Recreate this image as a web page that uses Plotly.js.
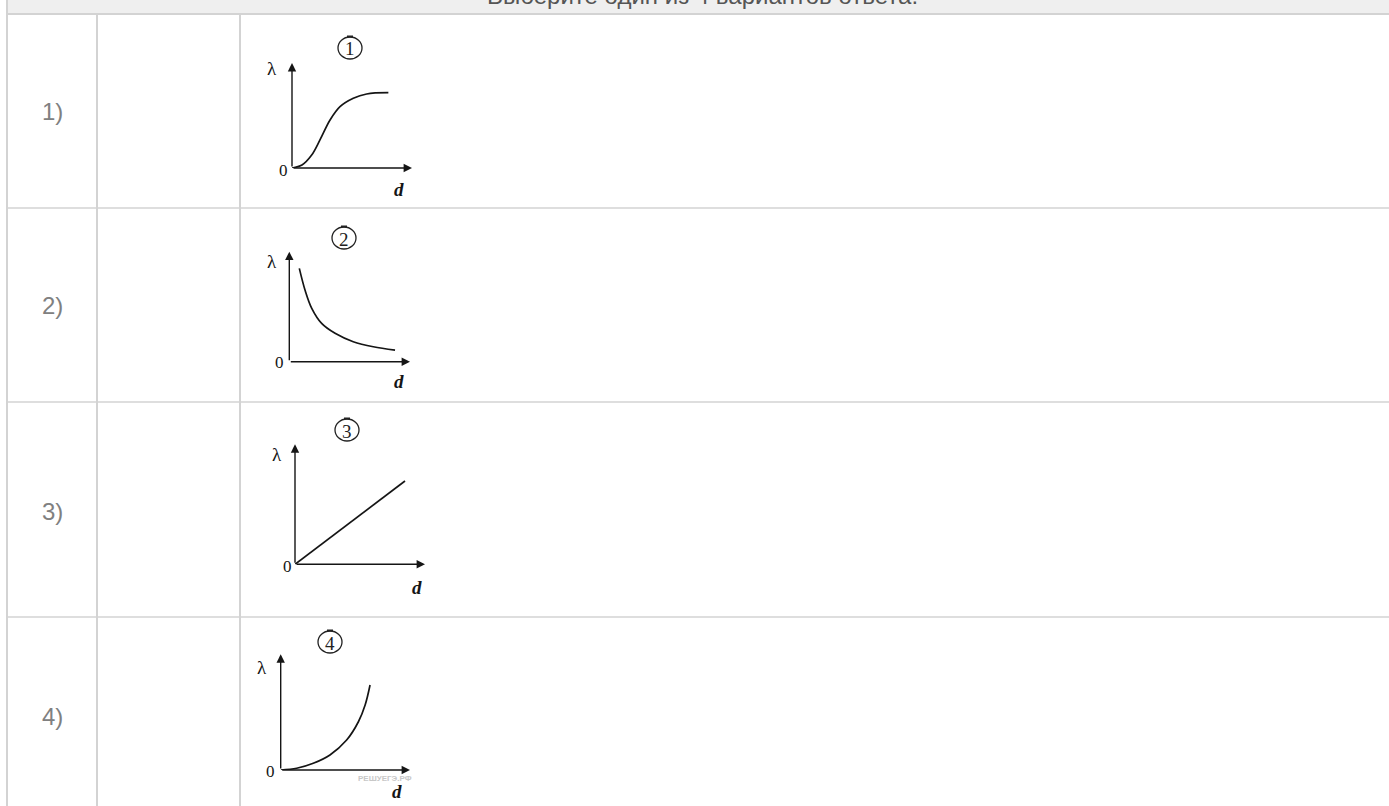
<!DOCTYPE html>
<html>
<head>
<meta charset="utf-8">
<script src="https://cdn.plot.ly/plotly-3.0.1.min.js"></script>
<style>
html,body{margin:0;padding:0;background:#fff;overflow:hidden;}
#chart{width:1389px;height:806px;}
</style>
</head>
<body>
<div id="chart"></div>
<script>
// ---- data ----
var headerText = 'Выберите один из 4 вариантов ответа:';
var rowLabels = ['1)', '2)', '3)', '4)'];
var chartNumbers = ['1', '2', '3', '4'];
var yAxisLabel = 'λ';
var xAxisLabel = 'd';
var originLabel = '0';
var watermark = 'РЕШУЕГЭ.РФ';

var curve1X = [0, 0.83, 1.64, 2.33, 3.17, 4.0, 5.11, 6.22, 8.03];
var curve1Y = [0, 0.29, 1.24, 2.67, 4.57, 5.84, 6.64, 7.05, 7.17];
var curve2X = [0.83, 1.30, 1.86, 2.68, 3.79, 5.30, 6.96, 8.76];
var curve2Y = [8.48, 6.52, 4.85, 3.48, 2.58, 1.82, 1.36, 1.06];
var curve3X = [0, 8.46];
var curve3Y = [0, 6.94];
var curve4X = [0, 1.24, 2.52, 3.81, 5.10, 6.01, 6.53, 6.91];
var curve4Y = [0, 0.15, 0.58, 1.30, 2.59, 4.17, 5.62, 7.35];

var curvesX = [curve1X, curve2X, curve3X, curve4X];
var curvesY = [curve1Y, curve2Y, curve3Y, curve4Y];

// ---- layout geometry (pixels) ----
var W = 1389, H = 806;
function fx(p){ return p / W; }
function fy(p){ return 1 - p / H; }

var geom = [
  {ox:292,   oy:168,   xt:412, yt:63,    lam:[272,69],  zero:[283,170], d:[399,189], circ:[350,48]},
  {ox:289.3, oy:361.7, xt:410, yt:251.7, lam:[272,261], zero:[279,362], d:[399,382], circ:[344,238]},
  {ox:295,   oy:564.3, xt:425, yt:444.3, lam:[277,454], zero:[287,566], d:[417,587], circ:[347,430]},
  {ox:280.7, oy:770,   xt:410, yt:654.3, lam:[262,667], zero:[270,771], d:[397,791], circ:[330,642]}
];
var rowLabelY = [112, 305, 511, 716];

var grid = '#d3d3d3';
var ink = '#151515';
var serif = 'Liberation Serif, DejaVu Serif, serif';
var sans = 'Liberation Sans, Arial, sans-serif';

var data = [];
var layout = {
  width: W, height: H,
  margin: {l:0, r:0, t:0, b:0, pad:0},
  paper_bgcolor: '#ffffff',
  plot_bgcolor: 'rgba(0,0,0,0)',
  showlegend: false,
  shapes: [],
  annotations: []
};

// table
layout.shapes.push({type:'rect', xref:'paper', yref:'paper', x0:fx(7), x1:1, y0:fy(0), y1:fy(14), fillcolor:'#efefef', line:{width:0}, layer:'below'});
layout.shapes.push({type:'line', xref:'paper', yref:'paper', x0:fx(7), x1:1, y0:fy(14), y1:fy(14), line:{color:grid, width:2}});
layout.shapes.push({type:'line', xref:'paper', yref:'paper', x0:fx(7), x1:fx(7), y0:fy(0), y1:fy(H), line:{color:grid, width:2}});
[97, 240].forEach(function(x){
  layout.shapes.push({type:'line', xref:'paper', yref:'paper', x0:fx(x), x1:fx(x), y0:fy(15), y1:fy(H), line:{color:grid, width:2}});
});
[208, 402, 617].forEach(function(y){
  layout.shapes.push({type:'line', xref:'paper', yref:'paper', x0:fx(7), x1:1, y0:fy(y), y1:fy(y), line:{color:grid, width:1.5}});
});

layout.annotations.push({text:headerText, xref:'paper', yref:'paper', x:fx(702), y:fy(-4), xanchor:'center', yanchor:'middle',
  showarrow:false, font:{family:sans, size:24, color:'#555'}});

rowLabels.forEach(function(t, i){
  layout.annotations.push({text:t, xref:'paper', yref:'paper', x:fx(52), y:fy(rowLabelY[i]), xanchor:'center', yanchor:'middle',
    showarrow:false, font:{family:sans, size:24, color:'#808080'}});
});

// mini charts
geom.forEach(function(g, i){
  var n = i + 1;
  var xa = 'xaxis' + (n === 1 ? '' : n), ya = 'yaxis' + (n === 1 ? '' : n);
  var xr = 'x' + (n === 1 ? '' : n), yr = 'y' + (n === 1 ? '' : n);
  layout[xa] = {domain:[fx(g.ox), fx(g.xt)], range:[0,10], visible:false, fixedrange:true, anchor:yr};
  layout[ya] = {domain:[fy(g.oy), fy(g.yt)], range:[0,10], visible:false, fixedrange:true, anchor:xr};

  data.push({type:'scatter', mode:'lines', x:curvesX[i], y:curvesY[i], xaxis:xr, yaxis:yr,
    line:{color:ink, width:1.7, shape:'spline', smoothing:1}, hoverinfo:'skip'});

  // axes with arrows
  layout.annotations.push({text:'', x:10, y:0, ax:0, ay:0, xref:xr, yref:yr, axref:xr, ayref:yr,
    showarrow:true, arrowhead:2, arrowsize:1.2, arrowwidth:1.4, arrowcolor:ink, standoff:0, startstandoff:0});
  layout.annotations.push({text:'', x:0, y:10, ax:0, ay:0, xref:xr, yref:yr, axref:xr, ayref:yr,
    showarrow:true, arrowhead:2, arrowsize:1.2, arrowwidth:1.4, arrowcolor:ink, standoff:0, startstandoff:0});

  layout.annotations.push({text:yAxisLabel, xref:'paper', yref:'paper', x:fx(g.lam[0]), y:fy(g.lam[1]), xanchor:'center', yanchor:'middle',
    showarrow:false, font:{family:serif, size:19, color:ink}});
  layout.annotations.push({text:originLabel, xref:'paper', yref:'paper', x:fx(g.zero[0]), y:fy(g.zero[1]), xanchor:'center', yanchor:'middle',
    showarrow:false, font:{family:serif, size:17, color:ink}});
  layout.annotations.push({text:'<i><b>' + xAxisLabel + '</b></i>', xref:'paper', yref:'paper', x:fx(g.d[0]), y:fy(g.d[1]), xanchor:'center', yanchor:'middle',
    showarrow:false, font:{family:serif, size:19, color:ink}});

  // circled number
  var cx = g.circ[0], cy = g.circ[1];
  layout.shapes.push({type:'circle', xref:'paper', yref:'paper', x0:fx(cx-12), x1:fx(cx+12), y0:fy(cy-11), y1:fy(cy+11), line:{color:'#222', width:1.3}});
  layout.shapes.push({type:'line', xref:'paper', yref:'paper', x0:fx(cx-3), x1:fx(cx+3), y0:fy(cy-11.5), y1:fy(cy-11.5), line:{color:'#222', width:2}});
  layout.annotations.push({text:chartNumbers[i], xref:'paper', yref:'paper', x:fx(cx), y:fy(cy+1), xanchor:'center', yanchor:'middle',
    showarrow:false, font:{family:serif, size:19, color:'#222'}});
});

layout.annotations.push({text:'<b>' + watermark + '</b>', xref:'paper', yref:'paper', x:fx(356), y:fy(778), xanchor:'left', yanchor:'middle',
  showarrow:false, font:{family:sans, size:8, color:'#c8c8c8'}});

Plotly.newPlot('chart', data, layout, {displayModeBar:false, staticPlot:true});
</script>
</body>
</html>
